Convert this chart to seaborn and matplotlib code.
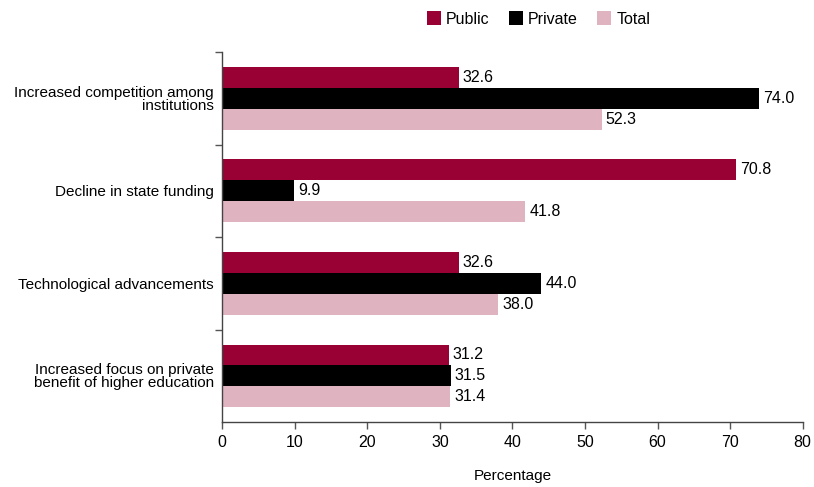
import pandas as pd
import numpy as np
import seaborn as sns
import matplotlib.pyplot as plt

categories = ['Increased competition among\ninstitutions', 'Decline in state funding',
              'Technological advancements',
              'Increased focus on private\nbenefit of higher education']
series = ['Public', 'Private', 'Total']
public = [32.6, 70.8, 32.6, 31.2]
private = [74.0, 9.9, 44.0, 31.5]
total = [52.3, 41.8, 38.0, 31.4]
colors = ['#990033', '#000000', '#DFB3C0']

data = pd.DataFrame({
    'Factor': categories * 3,
    'Sector': np.repeat(series, len(categories)),
    'Percentage': public + private + total,
})

sns.set_style('white')
plt.rcParams['font.family'] = ['Liberation Sans', 'DejaVu Sans']
plt.rcParams['text.color'] = 'black'
fs = 11

fig, ax = plt.subplots(figsize=(8.14, 4.87), dpi=100)
fig.subplots_adjust(left=0.273, right=0.986, top=0.893, bottom=0.133)

sns.barplot(data=data, y='Factor', x='Percentage', hue='Sector',
            order=categories, hue_order=series, palette=colors,
            orient='h', width=0.68, saturation=1, linewidth=0, ax=ax)

for c in ax.containers:
    ax.bar_label(c, fmt='%.1f', padding=3, fontsize=fs + 0.5, color='black')

ax.set_xlim(0, 80)
ax.set_xticks(range(0, 81, 10))
ax.set_ylim(3.5, -0.5)
ax.set_yticks([-0.5, 0.5, 1.5, 2.5], minor=True)
ax.tick_params(axis='y', which='major', length=0, labelsize=fs, pad=6, labelcolor='black')
ax.tick_params(axis='y', which='minor', left=True, length=5, direction='out',
               width=1, color='#555555')
ax.tick_params(axis='x', bottom=True, length=5, direction='out', width=1, color='#555555',
               labelsize=fs + 0.5, labelcolor='black', pad=4)
for lbl in ax.get_yticklabels():
    lbl.set_linespacing(0.9)

sns.despine(ax=ax)
for s in ['left', 'bottom']:
    ax.spines[s].set_color('#444444')
    ax.spines[s].set_linewidth(1)

ax.set_ylabel('')
ax.set_xlabel('Percentage', fontsize=fs, labelpad=14, color='black')

leg = ax.legend(loc='lower center', bbox_to_anchor=(0.545, 1.03), ncol=3, frameon=False,
                fontsize=fs + 0.5, handlelength=0.9, handleheight=0.9, handletextpad=0.3,
                columnspacing=1.2)
for t in leg.get_texts():
    t.set_color('black')

plt.savefig('out.png', dpi=100)
